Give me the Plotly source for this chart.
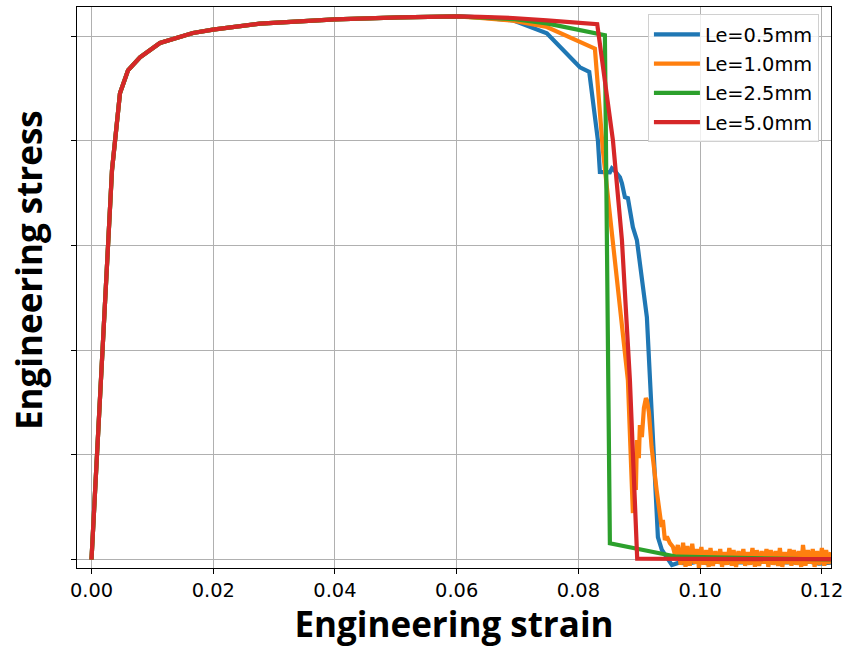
import plotly.graph_objects as go

# Common elastic-plastic part (strain, stress) shared by all element sizes
strain_base = [0.0, 0.00337, 0.00468, 0.00600, 0.00797, 0.01125, 0.01667, 0.01996, 0.02768, 0.04000, 0.05068, 0.06004]
stress_base = [0.0, 372.0, 445.6, 467.5, 479.9, 493.6, 503.2, 506.4, 512.1, 516.2, 518.1, 519.1]

# Le = 0.5 mm
strain_05 = [0.06382, 0.06924, 0.07482, 0.08025, 0.08178, 0.08320, 0.08353, 0.08517, 0.08550, 0.08600,
             0.08682, 0.08715, 0.08764, 0.08813, 0.08895, 0.08961, 0.09125, 0.09175, 0.09208, 0.09306,
             0.09372, 0.09536, 0.0965, 0.0980, 0.0995, 0.1010, 0.1025, 0.1040, 0.1060, 0.1080,
             0.1100, 0.1120, 0.1140, 0.1160, 0.1180, 0.1195, 0.1215]
stress_05 = [518.0, 515.3, 502.9, 470.4, 465.9, 400.7, 370.4, 370.0, 373.9, 371.4,
             365.3, 359.6, 346.2, 345.3, 317.6, 305.2, 231.6, 171.4, 152.4, 21.5,
             9.1, -5.3, -3.0, -4.0, -2.0, -3.5, -2.0, -3.0, -2.5, -3.0,
             -2.0, -3.0, -2.5, -3.0, -2.0, -4.0, -3.0]

# Le = 1.0 mm (softening part)
strain_10 = [0.06382, 0.06924, 0.07482, 0.08025, 0.08271, 0.08402, 0.08813, 0.08895, 0.08911, 0.08944,
             0.08961, 0.08993, 0.09010, 0.09043, 0.09076, 0.09109, 0.09125, 0.09158, 0.09202, 0.09285,
             0.09339, 0.09367, 0.09388, 0.09421, 0.09454, 0.09503, 0.09552, 0.09590, 0.09634]
stress_10 = [517.5, 515.0, 508.9, 494.6, 488.3, 391.1, 171.4, 44.4, 85.5, 66.4,
             114.1, 96.9, 128.5, 117.0, 144.7, 154.2, 152.4, 140.9, 107.7, 66.4,
             44.0, 31.0, 37.7, 18.6, 22.0, 15.7, 12.2, 4.0, 13.8]
# Le = 1.0 mm (oscillating tail after failure)
strain_10_tail = [0.0968, 0.0972, 0.0976, 0.0979, 0.0983, 0.0987, 0.0991, 0.0995, 0.0998, 0.1002,
                  0.1006, 0.1010, 0.1014, 0.1017, 0.1021, 0.1025, 0.1029, 0.1033, 0.1036, 0.1040,
                  0.1044, 0.1048, 0.1052, 0.1055, 0.1059, 0.1063, 0.1067, 0.1071, 0.1074, 0.1078,
                  0.1082, 0.1086, 0.1090, 0.1093, 0.1097, 0.1101, 0.1105, 0.1109, 0.1112, 0.1116,
                  0.1120, 0.1124, 0.1128, 0.1131, 0.1135, 0.1139, 0.1143, 0.1147, 0.1150, 0.1154,
                  0.1158, 0.1162, 0.1166, 0.1169, 0.1173, 0.1177, 0.1181, 0.1185, 0.1188, 0.1192,
                  0.1196, 0.1200, 0.1204, 0.1207, 0.1211, 0.1215]
stress_10_tail = [-5, 16, -7, 13, -6, 15, -4, 10, -8, 12,
                  -5, 9, -7, 11, -6, 8, -4, 10, -7, 7,
                  -5, 11, -6, 9, -7, 8, -4, 10, -6, 7,
                  -5, 11, -7, 9, -6, 8, -4, 10, -7, 9,
                  -5, 8, -6, 11, -7, 7, -4, 10, -6, 9,
                  -5, 8, -7, 14, -6, 9, -4, 10, -7, 8,
                  -5, 11, -6, 9, -4, 7]

# Le = 2.5 mm
strain_25 = [0.06382, 0.06924, 0.07482, 0.08025, 0.08435, 0.08517, 0.09618, 0.1215]
stress_25 = [518.0, 516.5, 512.4, 505.7, 501.0, 15.5, 2.7, 0.0]

# Le = 5.0 mm
strain_50 = [0.06382, 0.06924, 0.07482, 0.08025, 0.08309, 0.08567, 0.08715, 0.08846, 0.08966, 0.1215]
stress_50 = [518.5, 517.5, 515.3, 513.0, 511.5, 400.7, 305.2, 171.4, 0.8, 0.3]

labels = ["Le=0.5mm", "Le=1.0mm", "Le=2.5mm", "Le=5.0mm"]
colors = ["#1f77b4", "#ff7f0e", "#2ca02c", "#d62728"]

x_ticks = [0.0, 0.02, 0.04, 0.06, 0.08, 0.10, 0.12]
y_ticks = [0, 100, 200, 300, 400, 500]

series = [
    (strain_base + strain_05, stress_base + stress_05),
    (strain_base + strain_10 + strain_10_tail, stress_base + stress_10 + stress_10_tail),
    (strain_base + strain_25, stress_base + stress_25),
    (strain_base + strain_50, stress_base + stress_50),
]

fig = go.Figure()
for i, ((xs, ys), lab, col) in enumerate(zip(series, labels, colors)):
    assert len(xs) == len(ys)
    fig.add_trace(go.Scatter(x=xs, y=ys, mode="lines", name=lab, legendgroup=lab,
                             line=dict(color=col, width=4.2)))

axis_common = dict(showline=True, linecolor="black", linewidth=1.1, mirror=True,
                   showgrid=True, gridcolor="#b0b0b0", gridwidth=1.1,
                   ticks="outside", ticklen=5, tickwidth=1.1, tickcolor="black",
                   zeroline=False)

fig.update_layout(
    width=846, height=647,
    margin=dict(l=77, r=15, t=7, b=79),
    plot_bgcolor="white", paper_bgcolor="white",
    font=dict(family="DejaVu Sans", color="black"),
    showlegend=True,
    legend=dict(x=0.984, y=0.987, xanchor="right", yanchor="top",
                bgcolor="rgba(255,255,255,0.8)", bordercolor="#d0d0d0", borderwidth=1,
                font=dict(family="DejaVu Sans", size=19.4, color="black"),
                tracegroupgap=1, traceorder="grouped", itemwidth=46),
    annotations=[dict(text="<b>Engineering stress</b>", textangle=-90,
                      xref="paper", yref="paper", x=-0.065, y=0.531,
                      xanchor="center", yanchor="middle", showarrow=False,
                      font=dict(family="Open Sans", size=35, color="black"))],
)
fig.update_xaxes(range=[-0.00238, 0.1215], tickvals=x_ticks, tickformat=".2f",
                 tickfont=dict(family="DejaVu Sans", size=19.4, color="black"),
                 title=dict(text="<b>Engineering strain</b>",
                            font=dict(family="Open Sans", size=35, color="black"), standoff=8),
                 automargin=False, **axis_common)
fig.update_yaxes(range=[-8.1, 528], tickvals=y_ticks, showticklabels=False,
                 automargin=False, **axis_common)

fig.write_html("out.html", config={"displayModeBar": False},
               post_script="document.body.style.margin='0';document.body.style.overflow='hidden';")
